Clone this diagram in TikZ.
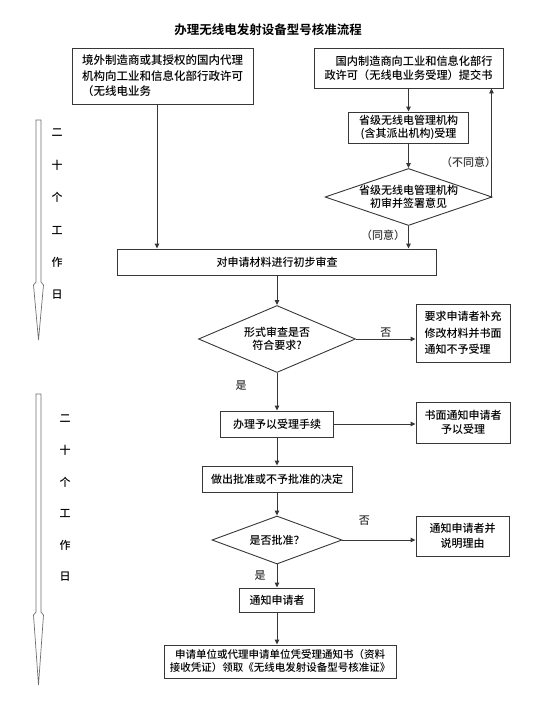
\documentclass[tikz,border=0pt]{standalone}
\usepackage{fontspec}
\setmainfont{Noto Sans CJK SC Medium}[BoldFont={Noto Sans CJK SC Bold}]
\usetikzlibrary{shapes.geometric, arrows.meta}
\definecolor{linegray}{RGB}{55,55,55}
\definecolor{daygray}{RGB}{110,110,110}
\tikzset{
>={Triangle[length=5pt,width=4.5pt]}, % small filled heads
box/.style={draw=linegray, line width=0.9pt, inner sep=0pt, align=center, font=\fontsize{11}{13}\selectfont}, % every step box
choice/.style={diamond, draw=linegray, line width=0.9pt, inner sep=0pt, align=center, font=\fontsize{11}{13}\selectfont}, % decisions
tag/.style={inner sep=0pt, font=\fontsize{11}{13}\selectfont}, % labels on the connectors
days/.style={draw=daygray, line width=0.7pt}, % hollow time arrows
}

\begin{document}
\begin{tikzpicture}[x=1pt, y=-1pt]
            \useasboundingbox (0,0) rectangle (535,712);
            \node[font=\bfseries\fontsize{12.5}{15}\selectfont] (title) at (268,30) {办理无线电发射设备型号核准流程};
            % the two ways in
            \node[box, minimum width=181pt, minimum height=56pt, align=left, font=\fontsize{11.5}{15.5}\selectfont] (foreign) at (162.5,76) {境外制造商或其授权的国内代理\\机构向工业和信息化部行政许可\\（无线电业务};
            \node[box, minimum width=189pt, minimum height=40pt, align=right, font=\fontsize{11.2}{14}\selectfont] (domestic) at (408.5,68) {国内制造商向工业和信息化部行\\政许可（无线电业务受理）提交书};
            \node[box, minimum width=120pt, minimum height=31pt] (accept) at (408.5,127.5) {省级无线电管理机构\\(含其派出机构)受理};
            \node[choice, minimum width=167pt, minimum height=57pt, aspect=2.9, inner sep=-1pt] (opinion) at (408.5,197) {省级无线电管理机构\\初审并签署意见};
            % main column
            \node[box, minimum width=319pt, minimum height=26pt] (review) at (277,262) {对申请材料进行初步审查};
            \node[choice, minimum width=157pt, minimum height=67pt, aspect=2.3] (check) at (277,339) {形式审查是否\\符合要求?};
            \node[box, minimum width=94pt, minimum height=58pt, align=left, font=\fontsize{11}{16.5}\selectfont] (reject) at (463,333) {要求申请者补充\\修改材料并书面\\通知不予受理};
            \node[box, minimum width=113pt, minimum height=26pt] (handle) at (277,424) {办理予以受理手续};
            \node[box, minimum width=94pt, minimum height=41pt, font=\fontsize{11}{14.5}\selectfont] (notice) at (463,422.5) {书面通知申请者\\予以受理};
            \node[box, minimum width=150pt, minimum height=26pt] (decide) at (277,479) {做出批准或不予批准的决定};
            \node[choice, minimum width=130pt, minimum height=48pt, aspect=2.7] (approve) at (277,540) {是否批准？};
            \node[box, minimum width=93pt, minimum height=40pt, font=\fontsize{11}{15}\selectfont] (reason) at (462.5,536) {通知申请者并\\说明理由};
            \node[box, minimum width=75pt, minimum height=24pt] (notify) at (277,600) {通知申请者};
            \node[box, minimum width=232pt, minimum height=33pt, font=\fontsize{10.5}{13}\selectfont] (final) at (280,661.5) {申请单位或代理申请单位凭受理通知书（资料\\接收凭证）领取《无线电发射设备型号核准证》};
            \draw[linegray, line width=0.9pt]
                ([xshift=-5.5pt]foreign.south) edge[->] ([xshift=-5.5pt]foreign.south |- review.north)
                (domestic) edge[->] (accept)
                (accept) edge[->] (opinion)
                (opinion) edge[->] node[tag, left=3pt, pos=0.4]{（同意）} (opinion |- review.north)
                (review) edge[->] (check)
                (check) edge[->] node[tag, above=1.5pt]{否} (check.east -| reject.west)
                (check) edge[->] node[tag, left=30pt, pos=0.33]{是} (handle)
                (handle) edge[->] (handle.east -| notice.west)
                (handle) edge[->] (decide)
                (decide) edge[->] (approve)
                (approve) edge[->] node[tag, above=14pt, pos=0.3]{否} (approve.east -| reason.west)
                (approve) edge[->] node[tag, left=11pt, pos=0.46]{是} (notify)
                (notify) edge[->] (notify |- final.north)
                ;
            \draw[->, linegray, line width=0.9pt] (opinion.east) -| node[tag, pos=0.66, left=-5pt]{（不同意）} ([xshift=-12pt]domestic.south east);
            % twenty working days, twice
            \draw[days] (36,120) -- (41,120) -- (41,282) -- (43.5,285) -- (38.5,340) -- (33.5,285) -- (36,282) -- cycle;
            \draw[days] (36,394) -- (41,394) -- (41,612) -- (43.5,615) -- (38.5,685) -- (33.5,615) -- (36,612) -- cycle;
            \foreach \ch [count=\i] in {二,十,个,工,作,日} {
                \node[tag] (dayA-\i) at (57,{133+32.4*(\i-1)}) {\ch};
                \node[tag] (dayB-\i) at (65,{419+31.6*(\i-1)}) {\ch};
            }
\end{tikzpicture}
\end{document}
